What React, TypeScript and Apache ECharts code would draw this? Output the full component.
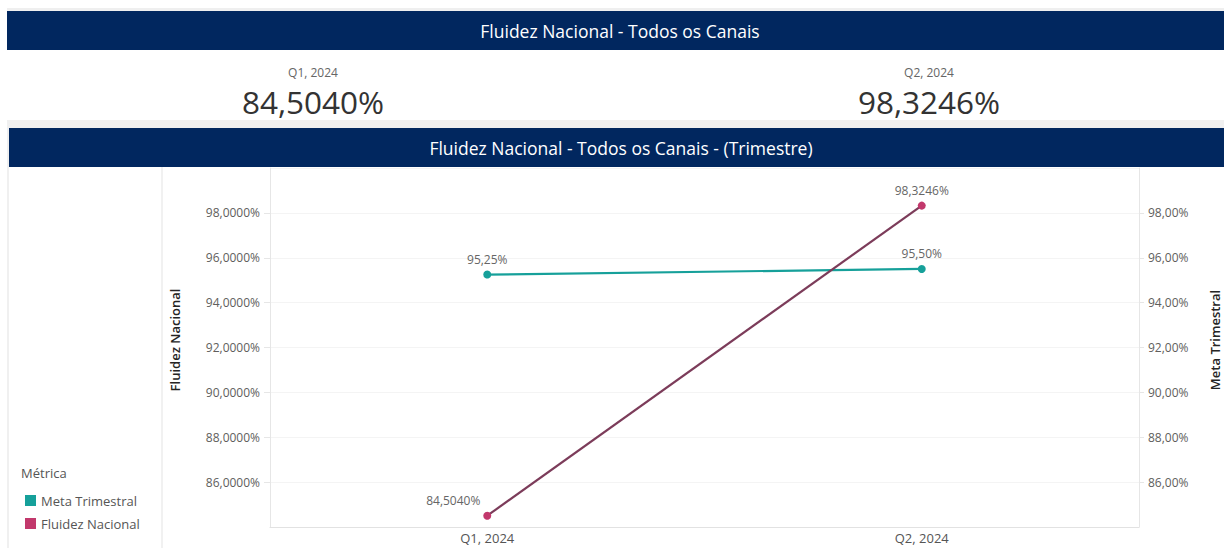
import React, { useEffect, useRef } from "react";
import * as echarts from "echarts";

const categories = ["Q1, 2024", "Q2, 2024"];
const fluidezValues = [84.504, 98.3246];
const metaValues = [95.25, 95.5];
const seriesNames = ["Meta Trimestral", "Fluidez Nacional"];
const mainTitle = "Fluidez Nacional - Todos os Canais";
const chartTitle = "Fluidez Nacional - Todos os Canais - (Trimestre)";
const legendTitle = "Métrica";

const FONT = "'Open Sans', 'Noto Sans', sans-serif";
const NAVY = "#01275f";
const TEAL = "#16a09a";
const PINK = "#c2386c";
const MAROON = "#7c3c5a";

const fmt = (v: number, d: number) => v.toFixed(d).replace(".", ",") + "%";

export default function App() {
  const ref = useRef<HTMLDivElement>(null);
  useEffect(() => {
    if (!ref.current) return;
    const chart = echarts.init(ref.current, null, { renderer: "svg" });
    const kpiX = [313, 929];
    const graphic: any[] = [
      { type: "rect", shape: { x: 7, y: 8, width: 1217, height: 4 }, style: { fill: "#efefef" }, z: 1 },
      { type: "rect", shape: { x: 7, y: 11, width: 1217, height: 39 }, style: { fill: NAVY }, z: 2 },
      {
        type: "text", x: 620, y: 31, z: 3,
        style: { text: mainTitle, fill: "#ffffff", font: `17.5px ${FONT}`, align: "center", verticalAlign: "middle" },
      },
      { type: "rect", shape: { x: 7, y: 120, width: 1217, height: 8 }, style: { fill: "#f0f0f0" }, z: 1 },
      { type: "rect", shape: { x: 7, y: 120, width: 2, height: 428 }, style: { fill: "#f0f0f0" }, z: 1 },
      { type: "rect", shape: { x: 9, y: 128, width: 1215, height: 39 }, style: { fill: NAVY }, z: 2 },
      {
        type: "text", x: 621, y: 148, z: 3,
        style: { text: chartTitle, fill: "#ffffff", font: `17.5px ${FONT}`, align: "center", verticalAlign: "middle" },
      },
      { type: "line", shape: { x1: 162, y1: 167, x2: 162, y2: 548 }, style: { stroke: "#ececec", lineWidth: 1.5 }, z: 1 },
      {
        type: "text", left: 21, top: 466, z: 3,
        style: { text: legendTitle, fill: "#555555", font: `13px ${FONT}` },
      },
      {
        type: "text", x: 175, y: 340, rotation: Math.PI / 2, z: 3,
        style: { text: seriesNames[1], fill: "#252423", font: `600 13px ${FONT}`, align: "center", verticalAlign: "middle" },
      },
      {
        type: "text", x: 1215, y: 340, rotation: Math.PI / 2, z: 3,
        style: { text: seriesNames[0], fill: "#252423", font: `600 13px ${FONT}`, align: "center", verticalAlign: "middle" },
      },
    ];
    categories.forEach((c, i) => {
      graphic.push({
        type: "text", x: kpiX[i], y: 72, z: 3,
        style: { text: c, fill: "#666666", font: `12px ${FONT}`, align: "center", verticalAlign: "middle" },
      });
      graphic.push({
        type: "text", x: kpiX[i], y: 101, z: 3,
        style: { text: fmt(fluidezValues[i], 4), fill: "#333333", font: `31.5px ${FONT}`, align: "center", verticalAlign: "middle" },
      });
    });

    chart.setOption({
      animation: false,
      backgroundColor: "#ffffff",
      textStyle: { fontFamily: FONT },
      graphic,
      legend: {
        orient: "vertical",
        left: 20,
        top: 489,
        icon: "rect",
        itemWidth: 11,
        itemHeight: 11,
        itemGap: 10,
        data: seriesNames,
        textStyle: { color: "#555555", fontSize: 13, fontFamily: FONT },
      },
      grid: { left: 270, right: 85, top: 168, bottom: 21, containLabel: false },
      xAxis: {
        type: "category",
        data: categories,
        boundaryGap: true,
        axisLine: { show: true, lineStyle: { color: "#e2e2e2" } },
        axisTick: { show: false },
        axisLabel: { color: "#555555", fontSize: 13, margin: 4, fontFamily: FONT },
      },
      yAxis: [
        {
          type: "value",
          min: 84,
          max: 100,
          interval: 2,
          position: "left",
          axisLine: { show: true, lineStyle: { color: "#e6e6e6" } },
          axisTick: { show: true, length: 6, lineStyle: { color: "#e6e6e6" } },
          splitLine: { show: true, lineStyle: { color: "#f4f4f4" } },
          axisLabel: {
            color: "#605e5c",
            fontSize: 12,
            margin: 10,
            showMinLabel: false,
            showMaxLabel: false,
            formatter: (v: number) => fmt(v, 4),
          },
        },
        {
          type: "value",
          min: 84,
          max: 100,
          interval: 2,
          position: "right",
          axisLine: { show: true, lineStyle: { color: "#e6e6e6" } },
          axisTick: { show: true, length: 5, lineStyle: { color: "#e6e6e6" } },
          splitLine: { show: false },
          axisLabel: {
            color: "#605e5c",
            fontSize: 12,
            margin: 9,
            showMinLabel: false,
            showMaxLabel: false,
            formatter: (v: number) => fmt(v, 2),
          },
        },
      ],
      series: [
        {
          name: seriesNames[0],
          type: "line",
          yAxisIndex: 1,
          data: metaValues,
          symbol: "circle",
          symbolSize: 8,
          lineStyle: { color: TEAL, width: 2.2 },
          itemStyle: { color: TEAL },
          label: {
            show: true,
            position: "top",
            distance: 5,
            color: "#666666",
            fontSize: 12,
            formatter: (p: any) => fmt(p.value, 2),
          },
        },
        {
          name: seriesNames[1],
          type: "line",
          yAxisIndex: 0,
          data: fluidezValues.map((v, i) =>
            i === 0 ? { value: v, label: { offset: [-34, 0] } } : { value: v }
          ),
          symbol: "circle",
          symbolSize: 8,
          lineStyle: { color: MAROON, width: 2.2 },
          itemStyle: { color: PINK },
          label: {
            show: true,
            position: "top",
            distance: 5,
            color: "#666666",
            fontSize: 12,
            formatter: (p: any) => fmt(p.value, 4),
          },
        },
      ],
    });
    return () => chart.dispose();
  }, []);

  return (
    <div
      ref={ref}
      style={{ position: "fixed", left: 0, top: 0, width: 1224, height: 548 }}
    />
  );
}
